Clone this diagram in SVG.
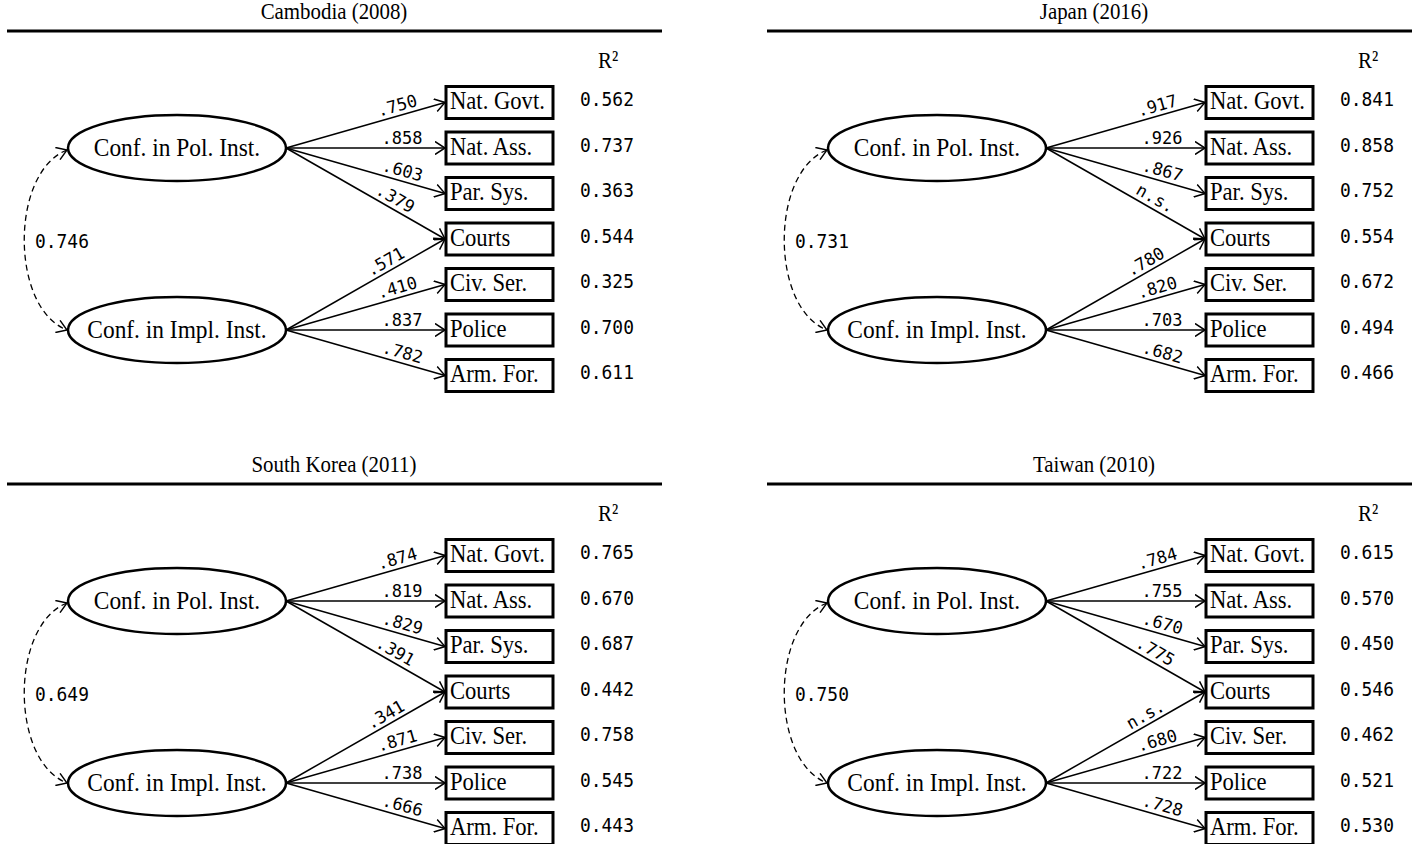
<svg xmlns="http://www.w3.org/2000/svg" width="1412" height="844" viewBox="0 0 1412 844">
<defs>
<marker id="arr" viewBox="0 0 11 14" refX="10.5" refY="7" markerWidth="11" markerHeight="14" markerUnits="userSpaceOnUse" orient="auto">
<path d="M0.5,0.5 L10.5,7 L0.5,13.5" fill="none" stroke="#000" stroke-width="1.5"/>
</marker>
<marker id="arrd" viewBox="0 0 11 14" refX="10.5" refY="7" markerWidth="11" markerHeight="14" markerUnits="userSpaceOnUse" orient="auto-start-reverse">
<path d="M0.5,0.5 L10.5,7 L0.5,13.5" fill="none" stroke="#000" stroke-width="1.4"/>
</marker>
</defs>
<style>
text { fill: #000; }
.t { font-family: "Liberation Serif", "Times New Roman", serif; font-size: 24px; text-anchor: middle; transform-box: fill-box; transform-origin: center; transform: scaleX(0.87); }
.lat { font-family: "Liberation Serif", "Times New Roman", serif; font-size: 26px; text-anchor: middle; transform-box: fill-box; transform-origin: center; transform: scaleX(0.9); }
.obs { font-family: "Liberation Serif", "Times New Roman", serif; font-size: 26px; text-anchor: start; transform-box: fill-box; transform-origin: left center; transform: scaleX(0.87); }
.r2h { font-family: "Liberation Serif", "Times New Roman", serif; font-size: 24px; text-anchor: start; transform-box: fill-box; transform-origin: left center; transform: scaleX(0.87); }
.val { font-family: "DejaVu Sans Mono", "Liberation Mono", monospace; font-size: 19.5px; text-anchor: start; transform-box: fill-box; transform-origin: left center; transform: scaleX(0.92); }
.lbl { font-family: "DejaVu Sans Mono", "Liberation Mono", monospace; font-size: 17px; text-anchor: middle; }
.rule { stroke: #000; stroke-width: 3; }
.ell { fill: #fff; stroke: #000; stroke-width: 2.5; }
.box { fill: #fff; stroke: #000; stroke-width: 3; }
.path { fill: none; stroke: #000; stroke-width: 1.5; marker-end: url(#arr); }
.cov { fill: none; stroke: #000; stroke-width: 1.3; stroke-dasharray: 6 4; marker-start: url(#arrd); marker-end: url(#arrd); }
</style>

<!-- ===================== Cambodia ===================== -->
<g id="panel-cambodia">
<text class="t" x="334" y="19">Cambodia (2008)</text>
<line class="rule" x1="7" y1="31" x2="662" y2="31"/>
<text class="r2h" x="598" y="68">R²</text>
<g id="kh-connectors">
<line class="path" x1="286" y1="148" x2="445" y2="102.5"/>
<line class="path" x1="286" y1="148" x2="445" y2="148"/>
<line class="path" x1="286" y1="148" x2="445" y2="193.5"/>
<line class="path" x1="286" y1="148" x2="445" y2="239"/>
<line class="path" x1="286" y1="330" x2="445" y2="239"/>
<line class="path" x1="286" y1="330" x2="445" y2="284.5"/>
<line class="path" x1="286" y1="330" x2="445" y2="330"/>
<line class="path" x1="286" y1="330" x2="445" y2="375.5"/>
<path class="cov" d="M67,150 C10,172 10,308 67,330"/>
<text class="lbl" transform="translate(399.8,115.6) rotate(-15.87)" y="-4.5">.750</text>
<text class="lbl" transform="translate(402,148)" y="-4.5">.858</text>
<text class="lbl" transform="translate(399.8,180.4) rotate(15.87)" y="-4.5">.603</text>
<text class="lbl" transform="translate(390.4,207.4) rotate(29.63)" y="-4.5">.379</text>
<text class="lbl" transform="translate(390.4,270.6) rotate(-29.63)" y="-4.5">.571</text>
<text class="lbl" transform="translate(399.8,297.6) rotate(-15.87)" y="-4.5">.410</text>
<text class="lbl" transform="translate(402,330)" y="-4.5">.837</text>
<text class="lbl" transform="translate(399.8,362.4) rotate(15.87)" y="-4.5">.782</text>
<text class="val" x="35" y="248">0.746</text>
</g>
<g id="kh-pol"><ellipse class="ell" cx="177" cy="148" rx="109" ry="33"/><text class="lat" x="177" y="156">Conf. in Pol. Inst.</text></g>
<g id="kh-impl"><ellipse class="ell" cx="177" cy="330" rx="109" ry="33"/><text class="lat" x="177" y="338">Conf. in Impl. Inst.</text></g>
<g id="kh-govt"><rect class="box" x="446" y="86.5" width="107" height="32"/><text class="obs" x="450" y="109.5">Nat. Govt.</text><text class="val" x="580" y="106.5">0.562</text></g>
<g id="kh-ass"><rect class="box" x="446" y="132" width="107" height="32"/><text class="obs" x="450" y="155">Nat. Ass.</text><text class="val" x="580" y="152">0.737</text></g>
<g id="kh-par"><rect class="box" x="446" y="177.5" width="107" height="32"/><text class="obs" x="450" y="200.5">Par. Sys.</text><text class="val" x="580" y="197.5">0.363</text></g>
<g id="kh-courts"><rect class="box" x="446" y="223" width="107" height="32"/><text class="obs" x="450" y="246">Courts</text><text class="val" x="580" y="243">0.544</text></g>
<g id="kh-civ"><rect class="box" x="446" y="268.5" width="107" height="32"/><text class="obs" x="450" y="291.5">Civ. Ser.</text><text class="val" x="580" y="288.5">0.325</text></g>
<g id="kh-police"><rect class="box" x="446" y="314" width="107" height="32"/><text class="obs" x="450" y="337">Police</text><text class="val" x="580" y="334">0.700</text></g>
<g id="kh-arm"><rect class="box" x="446" y="359.5" width="107" height="32"/><text class="obs" x="450" y="382.5">Arm. For.</text><text class="val" x="580" y="379.5">0.611</text></g>
</g>

<!-- ===================== Japan ===================== -->
<g id="panel-japan" transform="translate(760,0)">
<text class="t" x="334" y="19">Japan (2016)</text>
<line class="rule" x1="7" y1="31" x2="662" y2="31"/>
<text class="r2h" x="598" y="68">R²</text>
<g id="jp-connectors">
<line class="path" x1="286" y1="148" x2="445" y2="102.5"/>
<line class="path" x1="286" y1="148" x2="445" y2="148"/>
<line class="path" x1="286" y1="148" x2="445" y2="193.5"/>
<line class="path" x1="286" y1="148" x2="445" y2="239"/>
<line class="path" x1="286" y1="330" x2="445" y2="239"/>
<line class="path" x1="286" y1="330" x2="445" y2="284.5"/>
<line class="path" x1="286" y1="330" x2="445" y2="330"/>
<line class="path" x1="286" y1="330" x2="445" y2="375.5"/>
<path class="cov" d="M67,150 C10,172 10,308 67,330"/>
<text class="lbl" transform="translate(399.8,115.6) rotate(-15.87)" y="-4.5">.917</text>
<text class="lbl" transform="translate(402,148)" y="-4.5">.926</text>
<text class="lbl" transform="translate(399.8,180.4) rotate(15.87)" y="-4.5">.867</text>
<text class="lbl" transform="translate(390.4,207.4) rotate(29.63)" y="-4.5">n.s.</text>
<text class="lbl" transform="translate(390.4,270.6) rotate(-29.63)" y="-4.5">.780</text>
<text class="lbl" transform="translate(399.8,297.6) rotate(-15.87)" y="-4.5">.820</text>
<text class="lbl" transform="translate(402,330)" y="-4.5">.703</text>
<text class="lbl" transform="translate(399.8,362.4) rotate(15.87)" y="-4.5">.682</text>
<text class="val" x="35" y="248">0.731</text>
</g>
<g id="jp-pol"><ellipse class="ell" cx="177" cy="148" rx="109" ry="33"/><text class="lat" x="177" y="156">Conf. in Pol. Inst.</text></g>
<g id="jp-impl"><ellipse class="ell" cx="177" cy="330" rx="109" ry="33"/><text class="lat" x="177" y="338">Conf. in Impl. Inst.</text></g>
<g id="jp-govt"><rect class="box" x="446" y="86.5" width="107" height="32"/><text class="obs" x="450" y="109.5">Nat. Govt.</text><text class="val" x="580" y="106.5">0.841</text></g>
<g id="jp-ass"><rect class="box" x="446" y="132" width="107" height="32"/><text class="obs" x="450" y="155">Nat. Ass.</text><text class="val" x="580" y="152">0.858</text></g>
<g id="jp-par"><rect class="box" x="446" y="177.5" width="107" height="32"/><text class="obs" x="450" y="200.5">Par. Sys.</text><text class="val" x="580" y="197.5">0.752</text></g>
<g id="jp-courts"><rect class="box" x="446" y="223" width="107" height="32"/><text class="obs" x="450" y="246">Courts</text><text class="val" x="580" y="243">0.554</text></g>
<g id="jp-civ"><rect class="box" x="446" y="268.5" width="107" height="32"/><text class="obs" x="450" y="291.5">Civ. Ser.</text><text class="val" x="580" y="288.5">0.672</text></g>
<g id="jp-police"><rect class="box" x="446" y="314" width="107" height="32"/><text class="obs" x="450" y="337">Police</text><text class="val" x="580" y="334">0.494</text></g>
<g id="jp-arm"><rect class="box" x="446" y="359.5" width="107" height="32"/><text class="obs" x="450" y="382.5">Arm. For.</text><text class="val" x="580" y="379.5">0.466</text></g>
</g>

<!-- ===================== South Korea ===================== -->
<g id="panel-southkorea" transform="translate(0,453)">
<text class="t" x="334" y="19">South Korea (2011)</text>
<line class="rule" x1="7" y1="31" x2="662" y2="31"/>
<text class="r2h" x="598" y="68">R²</text>
<g id="kr-connectors">
<line class="path" x1="286" y1="148" x2="445" y2="102.5"/>
<line class="path" x1="286" y1="148" x2="445" y2="148"/>
<line class="path" x1="286" y1="148" x2="445" y2="193.5"/>
<line class="path" x1="286" y1="148" x2="445" y2="239"/>
<line class="path" x1="286" y1="330" x2="445" y2="239"/>
<line class="path" x1="286" y1="330" x2="445" y2="284.5"/>
<line class="path" x1="286" y1="330" x2="445" y2="330"/>
<line class="path" x1="286" y1="330" x2="445" y2="375.5"/>
<path class="cov" d="M67,150 C10,172 10,308 67,330"/>
<text class="lbl" transform="translate(399.8,115.6) rotate(-15.87)" y="-4.5">.874</text>
<text class="lbl" transform="translate(402,148)" y="-4.5">.819</text>
<text class="lbl" transform="translate(399.8,180.4) rotate(15.87)" y="-4.5">.829</text>
<text class="lbl" transform="translate(390.4,207.4) rotate(29.63)" y="-4.5">.391</text>
<text class="lbl" transform="translate(390.4,270.6) rotate(-29.63)" y="-4.5">.341</text>
<text class="lbl" transform="translate(399.8,297.6) rotate(-15.87)" y="-4.5">.871</text>
<text class="lbl" transform="translate(402,330)" y="-4.5">.738</text>
<text class="lbl" transform="translate(399.8,362.4) rotate(15.87)" y="-4.5">.666</text>
<text class="val" x="35" y="248">0.649</text>
</g>
<g id="kr-pol"><ellipse class="ell" cx="177" cy="148" rx="109" ry="33"/><text class="lat" x="177" y="156">Conf. in Pol. Inst.</text></g>
<g id="kr-impl"><ellipse class="ell" cx="177" cy="330" rx="109" ry="33"/><text class="lat" x="177" y="338">Conf. in Impl. Inst.</text></g>
<g id="kr-govt"><rect class="box" x="446" y="86.5" width="107" height="32"/><text class="obs" x="450" y="109.5">Nat. Govt.</text><text class="val" x="580" y="106.5">0.765</text></g>
<g id="kr-ass"><rect class="box" x="446" y="132" width="107" height="32"/><text class="obs" x="450" y="155">Nat. Ass.</text><text class="val" x="580" y="152">0.670</text></g>
<g id="kr-par"><rect class="box" x="446" y="177.5" width="107" height="32"/><text class="obs" x="450" y="200.5">Par. Sys.</text><text class="val" x="580" y="197.5">0.687</text></g>
<g id="kr-courts"><rect class="box" x="446" y="223" width="107" height="32"/><text class="obs" x="450" y="246">Courts</text><text class="val" x="580" y="243">0.442</text></g>
<g id="kr-civ"><rect class="box" x="446" y="268.5" width="107" height="32"/><text class="obs" x="450" y="291.5">Civ. Ser.</text><text class="val" x="580" y="288.5">0.758</text></g>
<g id="kr-police"><rect class="box" x="446" y="314" width="107" height="32"/><text class="obs" x="450" y="337">Police</text><text class="val" x="580" y="334">0.545</text></g>
<g id="kr-arm"><rect class="box" x="446" y="359.5" width="107" height="32"/><text class="obs" x="450" y="382.5">Arm. For.</text><text class="val" x="580" y="379.5">0.443</text></g>
</g>

<!-- ===================== Taiwan ===================== -->
<g id="panel-taiwan" transform="translate(760,453)">
<text class="t" x="334" y="19">Taiwan (2010)</text>
<line class="rule" x1="7" y1="31" x2="662" y2="31"/>
<text class="r2h" x="598" y="68">R²</text>
<g id="tw-connectors">
<line class="path" x1="286" y1="148" x2="445" y2="102.5"/>
<line class="path" x1="286" y1="148" x2="445" y2="148"/>
<line class="path" x1="286" y1="148" x2="445" y2="193.5"/>
<line class="path" x1="286" y1="148" x2="445" y2="239"/>
<line class="path" x1="286" y1="330" x2="445" y2="239"/>
<line class="path" x1="286" y1="330" x2="445" y2="284.5"/>
<line class="path" x1="286" y1="330" x2="445" y2="330"/>
<line class="path" x1="286" y1="330" x2="445" y2="375.5"/>
<path class="cov" d="M67,150 C10,172 10,308 67,330"/>
<text class="lbl" transform="translate(399.8,115.6) rotate(-15.87)" y="-4.5">.784</text>
<text class="lbl" transform="translate(402,148)" y="-4.5">.755</text>
<text class="lbl" transform="translate(399.8,180.4) rotate(15.87)" y="-4.5">.670</text>
<text class="lbl" transform="translate(390.4,207.4) rotate(29.63)" y="-4.5">.775</text>
<text class="lbl" transform="translate(390.4,270.6) rotate(-29.63)" y="-4.5">n.s.</text>
<text class="lbl" transform="translate(399.8,297.6) rotate(-15.87)" y="-4.5">.680</text>
<text class="lbl" transform="translate(402,330)" y="-4.5">.722</text>
<text class="lbl" transform="translate(399.8,362.4) rotate(15.87)" y="-4.5">.728</text>
<text class="val" x="35" y="248">0.750</text>
</g>
<g id="tw-pol"><ellipse class="ell" cx="177" cy="148" rx="109" ry="33"/><text class="lat" x="177" y="156">Conf. in Pol. Inst.</text></g>
<g id="tw-impl"><ellipse class="ell" cx="177" cy="330" rx="109" ry="33"/><text class="lat" x="177" y="338">Conf. in Impl. Inst.</text></g>
<g id="tw-govt"><rect class="box" x="446" y="86.5" width="107" height="32"/><text class="obs" x="450" y="109.5">Nat. Govt.</text><text class="val" x="580" y="106.5">0.615</text></g>
<g id="tw-ass"><rect class="box" x="446" y="132" width="107" height="32"/><text class="obs" x="450" y="155">Nat. Ass.</text><text class="val" x="580" y="152">0.570</text></g>
<g id="tw-par"><rect class="box" x="446" y="177.5" width="107" height="32"/><text class="obs" x="450" y="200.5">Par. Sys.</text><text class="val" x="580" y="197.5">0.450</text></g>
<g id="tw-courts"><rect class="box" x="446" y="223" width="107" height="32"/><text class="obs" x="450" y="246">Courts</text><text class="val" x="580" y="243">0.546</text></g>
<g id="tw-civ"><rect class="box" x="446" y="268.5" width="107" height="32"/><text class="obs" x="450" y="291.5">Civ. Ser.</text><text class="val" x="580" y="288.5">0.462</text></g>
<g id="tw-police"><rect class="box" x="446" y="314" width="107" height="32"/><text class="obs" x="450" y="337">Police</text><text class="val" x="580" y="334">0.521</text></g>
<g id="tw-arm"><rect class="box" x="446" y="359.5" width="107" height="32"/><text class="obs" x="450" y="382.5">Arm. For.</text><text class="val" x="580" y="379.5">0.530</text></g>
</g>
</svg>
